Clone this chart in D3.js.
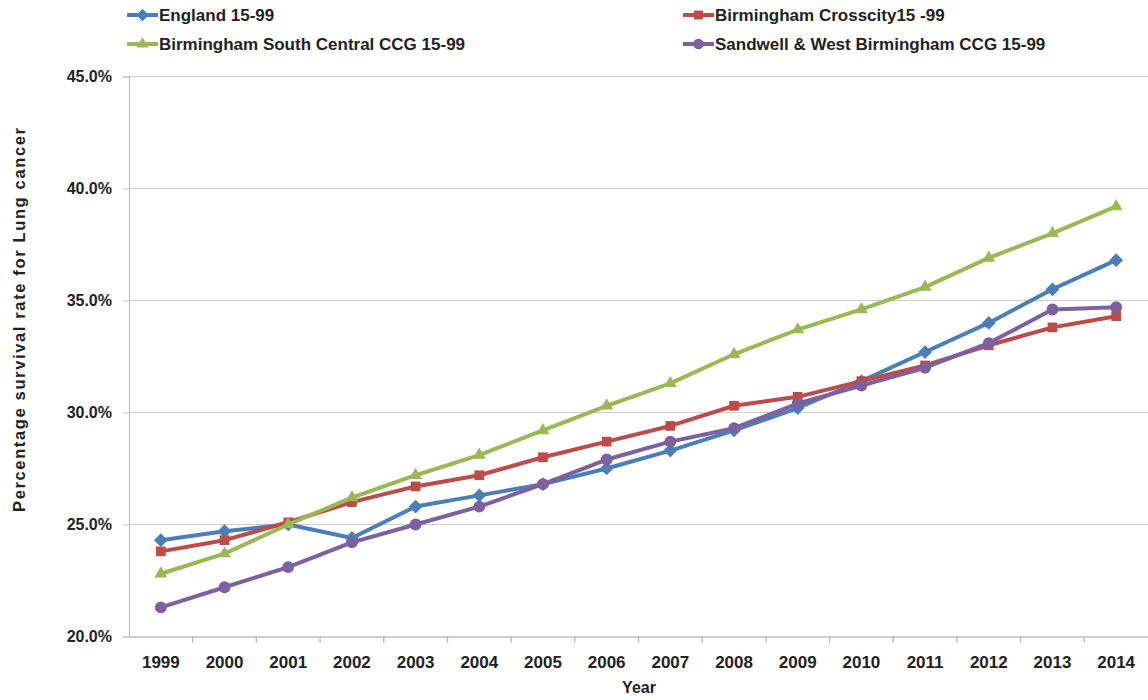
<!DOCTYPE html>
<html>
<head>
<meta charset="utf-8">
<script src="https://cdnjs.cloudflare.com/ajax/libs/d3/7.8.5/d3.min.js"></script>
<style>
  body { margin: 0; background: #fff; }
  text { font-family: "Liberation Sans", Arial, sans-serif; font-weight: bold; fill: #222; }
</style>
</head>
<body>
<svg width="1148" height="700"></svg>
<script>
const years = ['1999','2000','2001','2002','2003','2004','2005','2006','2007','2008','2009','2010','2011','2012','2013','2014'];
const england = [24.3, 24.7, 25.0, 24.4, 25.8, 26.3, 26.8, 27.5, 28.3, 29.2, 30.2, 31.4, 32.7, 34.0, 35.5, 36.8];
const crosscity = [23.8, 24.3, 25.1, 26.0, 26.7, 27.2, 28.0, 28.7, 29.4, 30.3, 30.7, 31.4, 32.1, 33.0, 33.8, 34.3];
const southCentral = [22.8, 23.7, 25.0, 26.2, 27.2, 28.1, 29.2, 30.3, 31.3, 32.6, 33.7, 34.6, 35.6, 36.9, 38.0, 39.2];
const sandwell = [21.3, 22.2, 23.1, 24.2, 25.0, 25.8, 26.8, 27.9, 28.7, 29.3, 30.4, 31.2, 32.0, 33.1, 34.6, 34.7];
const yTicks = [20, 25, 30, 35, 40, 45];

const series = [
  { name: 'England 15-99', values: england, color: '#4a7ebb', symbol: d3.symbolDiamond2 },
  { name: 'Birmingham Crosscity15 -99', values: crosscity, color: '#be4b48', symbol: d3.symbolSquare2 },
  { name: 'Birmingham South Central CCG 15-99', values: southCentral, color: '#98b954', symbol: d3.symbolTriangle2 },
  { name: 'Sandwell & West Birmingham CCG 15-99', values: sandwell, color: '#7d60a0', symbol: d3.symbolCircle }
];

const svg = d3.select('svg');
const plotLeft = 129, plotRight = 1148, plotTop = 76.5, plotBottom = 636.5;

const x = d3.scaleBand().domain(years).range([plotLeft, plotRight]);
const y = d3.scaleLinear().domain([20, 45]).range([plotBottom, plotTop]);

// gridlines
svg.append('g')
  .selectAll('line')
  .data(yTicks.filter(d => d > 20))
  .join('line')
    .attr('x1', plotLeft).attr('x2', plotRight)
    .attr('y1', d => y(d)).attr('y2', d => y(d))
    .attr('stroke', '#cfcfcf').attr('stroke-width', 1);

// y axis
const yAxis = svg.append('g')
  .attr('transform', `translate(${plotLeft},0)`)
  .call(d3.axisLeft(y).tickValues(yTicks).tickFormat(d => d.toFixed(1) + '%').tickSize(6).tickPadding(11));
yAxis.select('.domain').attr('stroke', '#bdbdbd');
yAxis.selectAll('.tick line').attr('stroke', '#bdbdbd');
yAxis.selectAll('text').style('font-size', '16px').attr('fill', '#222');

// x axis
const xAxis = svg.append('g')
  .attr('transform', `translate(0,${plotBottom})`)
  .call(d3.axisBottom(x).tickSize(0).tickPadding(19));
xAxis.select('.domain').attr('stroke', '#bdbdbd').attr('stroke-width', 1.5);
xAxis.selectAll('text').style('font-size', '17px').attr('fill', '#222');
// tick marks between categories
svg.append('g')
  .selectAll('line')
  .data(years.slice(1))
  .join('line')
    .attr('x1', d => x(d)).attr('x2', d => x(d))
    .attr('y1', plotBottom).attr('y2', plotBottom + 6)
    .attr('stroke', '#bdbdbd').attr('stroke-width', 1.5);

// axis titles
svg.append('text')
  .attr('transform', 'translate(25,320) rotate(-90)')
  .attr('text-anchor', 'middle')
  .style('font-size', '16.5px')
  .attr('textLength', 384)
  .attr('lengthAdjust', 'spacing')
  .text('Percentage survival rate for Lung cancer');
svg.append('text')
  .attr('x', 639).attr('y', 693)
  .attr('text-anchor', 'middle')
  .style('font-size', '16px')
  .text('Year');

// lines and markers
const line = d3.line()
  .x((d, i) => x(years[i]) + x.bandwidth() / 2)
  .y(d => y(d));

series.forEach(s => {
  const g = svg.append('g');
  g.append('path')
    .attr('d', line(s.values))
    .attr('fill', 'none')
    .attr('stroke', s.color)
    .attr('stroke-width', 4)
    .attr('stroke-linejoin', 'round');
  g.selectAll('path.mk')
    .data(s.values)
    .join('path')
      .attr('class', 'mk')
      .attr('transform', (d, i) => `translate(${x(years[i]) + x.bandwidth() / 2},${y(d)})`)
      .attr('d', d3.symbol().type(s.symbol).size(s.symbol === d3.symbolCircle ? 110 : 120))
      .attr('fill', s.color);
});

// legend
const legendPos = [[127, 15], [683, 15], [127, 44], [683, 44]];
series.forEach((s, i) => {
  const [lx, ly] = legendPos[i];
  const g = svg.append('g').attr('transform', `translate(${lx},${ly})`);
  g.append('line').attr('x1', 0).attr('x2', 31).attr('y1', 0).attr('y2', 0)
    .attr('stroke', s.color).attr('stroke-width', 4);
  g.append('path').attr('transform', 'translate(15.5,0)')
    .attr('d', d3.symbol().type(s.symbol).size(s.symbol === d3.symbolCircle ? 90 : 100))
    .attr('fill', s.color);
  g.append('text').attr('x', 32).attr('y', 6)
    .style('font-size', '17px')
    .text(s.name);
});
</script>
</body>
</html>
